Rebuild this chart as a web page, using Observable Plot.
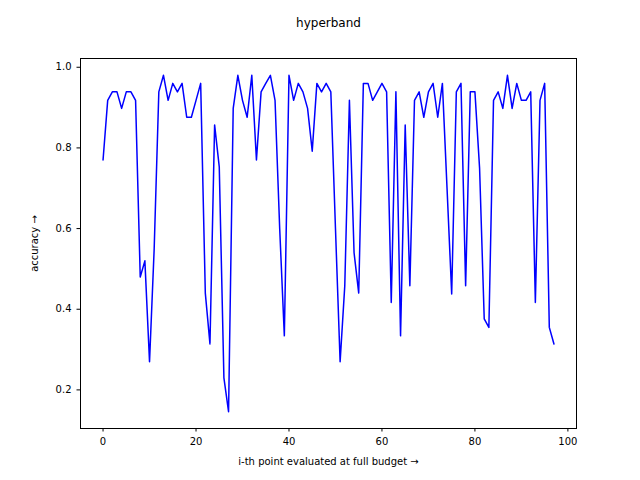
<!DOCTYPE html>
<html>
<head>
<meta charset="utf-8">
<script src="https://cdn.jsdelivr.net/npm/d3@7"></script>
<script src="https://cdn.jsdelivr.net/npm/@observablehq/plot@0.6"></script>
<style>
  body { margin: 0; background: #fff; }
</style>
</head>
<body>
<div id="chart"></div>
<script>
// accuracy of the i-th point evaluated at full budget
var accuracy = [
  0.77, 0.918, 0.939, 0.939, 0.898, 0.939, 0.939, 0.918, 0.48, 0.52,
  0.27, 0.55, 0.939, 0.98, 0.918, 0.96, 0.939, 0.96, 0.876, 0.876,
  0.918, 0.96, 0.44, 0.314, 0.857, 0.753, 0.23, 0.146, 0.898, 0.98,
  0.918, 0.876, 0.98, 0.77, 0.939, 0.96, 0.98, 0.918, 0.6, 0.334,
  0.98, 0.918, 0.96, 0.939, 0.898, 0.792, 0.96, 0.939, 0.96, 0.939,
  0.6, 0.27, 0.458, 0.918, 0.54, 0.44, 0.96, 0.96, 0.918, 0.939,
  0.96, 0.939, 0.417, 0.939, 0.334, 0.857, 0.458, 0.918, 0.939, 0.876,
  0.939, 0.96, 0.876, 0.96, 0.7, 0.438, 0.939, 0.96, 0.458, 0.939,
  0.939, 0.75, 0.376, 0.355, 0.918, 0.939, 0.898, 0.98, 0.898, 0.96,
  0.918, 0.918, 0.939, 0.417, 0.918, 0.96, 0.355, 0.314
];
var xTicks = [0, 20, 40, 60, 80, 100];
var yTicks = [0.2, 0.4, 0.6, 0.8, 1.0];

var data = accuracy.map((v, i) => ({ i: i, acc: v }));

var chart = Plot.plot({
  width: 640,
  height: 480,
  marginLeft: 80,
  marginRight: 64,
  marginTop: 58,
  marginBottom: 52,
  style: { fontFamily: "DejaVu Sans", fontSize: "10px", color: "black" },
  x: { domain: [-4.85, 101.85], ticks: xTicks, tickSize: 3.5, label: "i-th point evaluated at full budget", labelAnchor: "center", labelOffset: 36 },
  y: { domain: [0.1043, 1.0217], ticks: yTicks, tickSize: 3.5, tickFormat: d3.format(".1f"), label: "accuracy", labelAnchor: "center", labelOffset: 50 },
  marks: [
    Plot.frame({ stroke: "black" }),
    Plot.line(data, { x: "i", y: "acc", stroke: "blue", strokeWidth: 1.5 }),
    Plot.text(["hyperband"], { frameAnchor: "top", dy: -40, fontSize: 12 })
  ]
});
document.getElementById("chart").append(chart);
</script>
</body>
</html>
